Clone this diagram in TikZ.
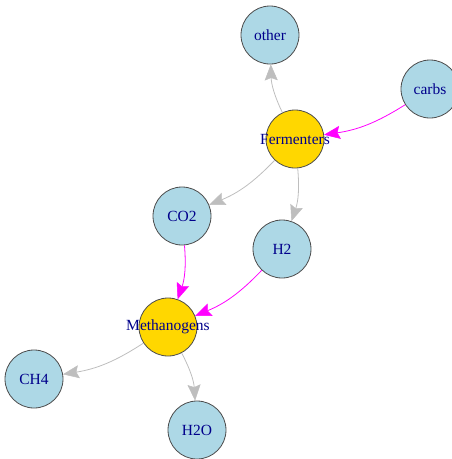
\documentclass[tikz,border=0pt]{standalone}
\usepackage{fontspec}
\setmainfont{Liberation Serif}
\usetikzlibrary{arrows.meta}
\definecolor{nodeblue}{RGB}{173,216,230}
\definecolor{nodegold}{RGB}{255,215,0}
\definecolor{labelblue}{RGB}{0,0,139}
\definecolor{edgegray}{RGB}{190,190,190}
\definecolor{edgemag}{RGB}{255,0,255}
\newcommand{\vlab}[1]{\makebox[0pt]{#1}}
\tikzset{
  vert/.style={circle, draw=black!70, line width=0.8pt, minimum size=58pt, inner sep=0pt,
    text=labelblue, font=\fontsize{15.5}{17}\selectfont},
  bluev/.style={vert, fill=nodeblue},
  goldv/.style={vert, fill=nodegold},
  edge/.style={line width=0.8pt, -{Stealth[length=16pt, width=13pt, inset=2.5pt, line width=0.5pt]}, bend left=12},
  grayedge/.style={edge, draw=edgegray},
  magedge/.style={edge, draw=edgemag}
}
\begin{document}
\begin{tikzpicture}[x=1pt, y=-1pt]
\useasboundingbox (0,0) rectangle (451,459);
\node[bluev] (other) at (270,35) {\vlab{other}};
\node[bluev] (carbs) at (430,89) {\vlab{carbs}};
\node[goldv] (ferm) at (295,139) {\vlab{Fermenters}};
\node[bluev] (co2) at (182,216) {\vlab{CO2}};
\node[bluev] (h2) at (282,249) {\vlab{H2}};
\node[goldv] (meth) at (168,327) {\vlab{Methanogens}};
\node[bluev] (ch4) at (34,379) {\vlab{CH4}};
\node[bluev] (h2o) at (197,430) {\vlab{H2O}};
\draw[grayedge] (ferm) to (other);
\draw[magedge] (carbs) to (ferm);
\draw[grayedge] (ferm) to (co2);
\draw[grayedge] (ferm) to (h2);
\draw[magedge] (co2) to (meth);
\draw[magedge] (h2) to (meth);
\draw[grayedge] (meth) to (ch4);
\draw[grayedge] (meth) to (h2o);
\end{tikzpicture}
\end{document}
